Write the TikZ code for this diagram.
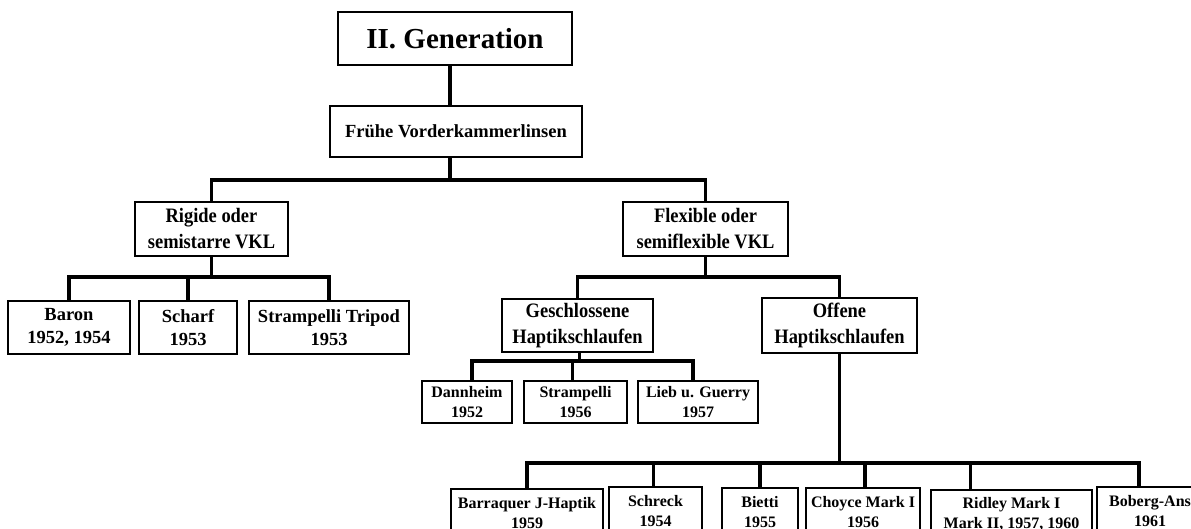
\documentclass[tikz,border=0pt]{standalone}
\usepackage{fontspec}
\setmainfont{Liberation Serif}
\newfontfamily\midfont{Liberation Serif}[FakeStretch=0.9]
\tikzset{
  box/.style={draw, line width=2pt, align=center, inner sep=0pt},
  titlebox/.style={box, font=\fontsize{29}{34}\selectfont\bfseries},
  topbox/.style={box, font=\fontsize{18.5}{22}\selectfont\bfseries},
  midbox/.style={box, font=\midfont\fontsize{20.5}{26}\selectfont\bfseries},
  leftbox/.style={box, font=\fontsize{18.5}{22.5}\selectfont\bfseries},
  lowbox/.style={box, font=\fontsize{16}{20}\selectfont\bfseries},
  conn/.style={line width=3.2pt}
}
\begin{document}
\begin{tikzpicture}[x=1pt,y=-1pt]
\clip (0,0) rectangle (1191,528);
\fill[white] (0,0) rectangle (1191,528);

% nodes
\node[titlebox, minimum width=234pt, minimum height=53pt] (title) at (455,38.5) {II. Generation};
\node[topbox, minimum width=252pt, minimum height=51pt] (fr) at (456,131.5) {Frühe Vorderkammerlinsen};

\node[midbox, minimum width=153pt, minimum height=54pt] (rig) at (211.5,229) {Rigide oder\\semistarre VKL};
\node[midbox, minimum width=165pt, minimum height=54pt] (flex) at (705.5,229) {Flexible oder\\semiflexible VKL};

\node[leftbox, minimum width=122pt, minimum height=53pt] (baron) at (69,327.5) {Baron\\1952, 1954};
\node[leftbox, minimum width=98pt, minimum height=53pt] (scharf) at (188,327.5) {Scharf\\1953};
\node[leftbox, minimum width=160pt, minimum height=53pt] (tripod) at (329,327.5) {Strampelli Tripod\\1953};

\node[midbox, minimum width=151pt, minimum height=53pt] (gesch) at (577.5,325.5) {Geschlossene\\Haptikschlaufen};
\node[midbox, minimum width=155pt, minimum height=55pt] (offen) at (839.5,325.5) {Offene\\Haptikschlaufen};

\node[lowbox, minimum width=90pt, minimum height=42pt] (dann) at (467,402) {Dannheim\\1952};
\node[lowbox, minimum width=103pt, minimum height=42pt] (stramp) at (575.5,402) {Strampelli\\1956};
\node[lowbox, minimum width=120pt, minimum height=42pt] (lieb) at (698,402) {Lieb u. Guerry\\1957};

\node[lowbox, minimum width=152pt, minimum height=48pt] (barr) at (527,513) {Barraquer J-Haptik\\1959};
\node[lowbox, minimum width=93pt, minimum height=48pt] (schreck) at (655.5,511) {Schreck\\1954};
\node[lowbox, minimum width=76pt, minimum height=48pt] (bietti) at (760,512) {Bietti\\1955};
\node[lowbox, minimum width=114pt, minimum height=48pt] (choyce) at (863,512) {Choyce Mark I\\1956};
\node[lowbox, minimum width=161pt, minimum height=48pt] (ridley) at (1011.5,514) {Ridley Mark I\\Mark II, 1957, 1960};
\node[lowbox, minimum width=106pt, minimum height=48pt] (boberg) at (1150,511) {Boberg-Ans\\1961};

% connectors
\draw[conn] ([xshift=-5pt]title.south) -- ([xshift=-6pt]fr.north);
\draw[conn] ([xshift=-6pt]fr.south) -- ([xshift=-6pt]fr.south |- 0,180);
\draw[conn] (rig.north) |- (flex.north |- 0,180) -- (flex.north);

\draw[conn] (rig.south) -- (rig.south |- 0,277);
\draw[conn] (baron.north) |- (tripod.north |- 0,277) -- (tripod.north);
\draw[conn] (scharf.north) -- (scharf.north |- 0,277);

\draw[conn] (flex.south) -- (flex.south |- 0,277);
\draw[conn] (gesch.north) |- (offen.north |- 0,277) -- (offen.north);

\draw[conn] ([xshift=2pt]gesch.south) -- ([xshift=2pt]gesch.south |- 0,361);
\draw[conn] ([xshift=5pt]dann.north) |- ([xshift=-5pt]lieb.north |- 0,361) -- ([xshift=-5pt]lieb.north);
\draw[conn] ([xshift=-3pt]stramp.north) -- ([xshift=-3pt]stramp.north |- 0,361);

\draw[conn] (offen.south) -- (offen.south |- 0,463);
\draw[conn] (barr.north) |- ([xshift=-11pt]boberg.north |- 0,463) -- ([xshift=-11pt]boberg.north);
\draw[conn] ([xshift=-2pt]schreck.north) -- ([xshift=-2pt]schreck.north |- 0,463);
\draw[conn] (bietti.north) -- (bietti.north |- 0,463);
\draw[conn] ([xshift=2pt]choyce.north) -- ([xshift=2pt]choyce.north |- 0,463);
\draw[conn] ([xshift=-41pt]ridley.north) -- ([xshift=-41pt]ridley.north |- 0,463);
\end{tikzpicture}
\end{document}
